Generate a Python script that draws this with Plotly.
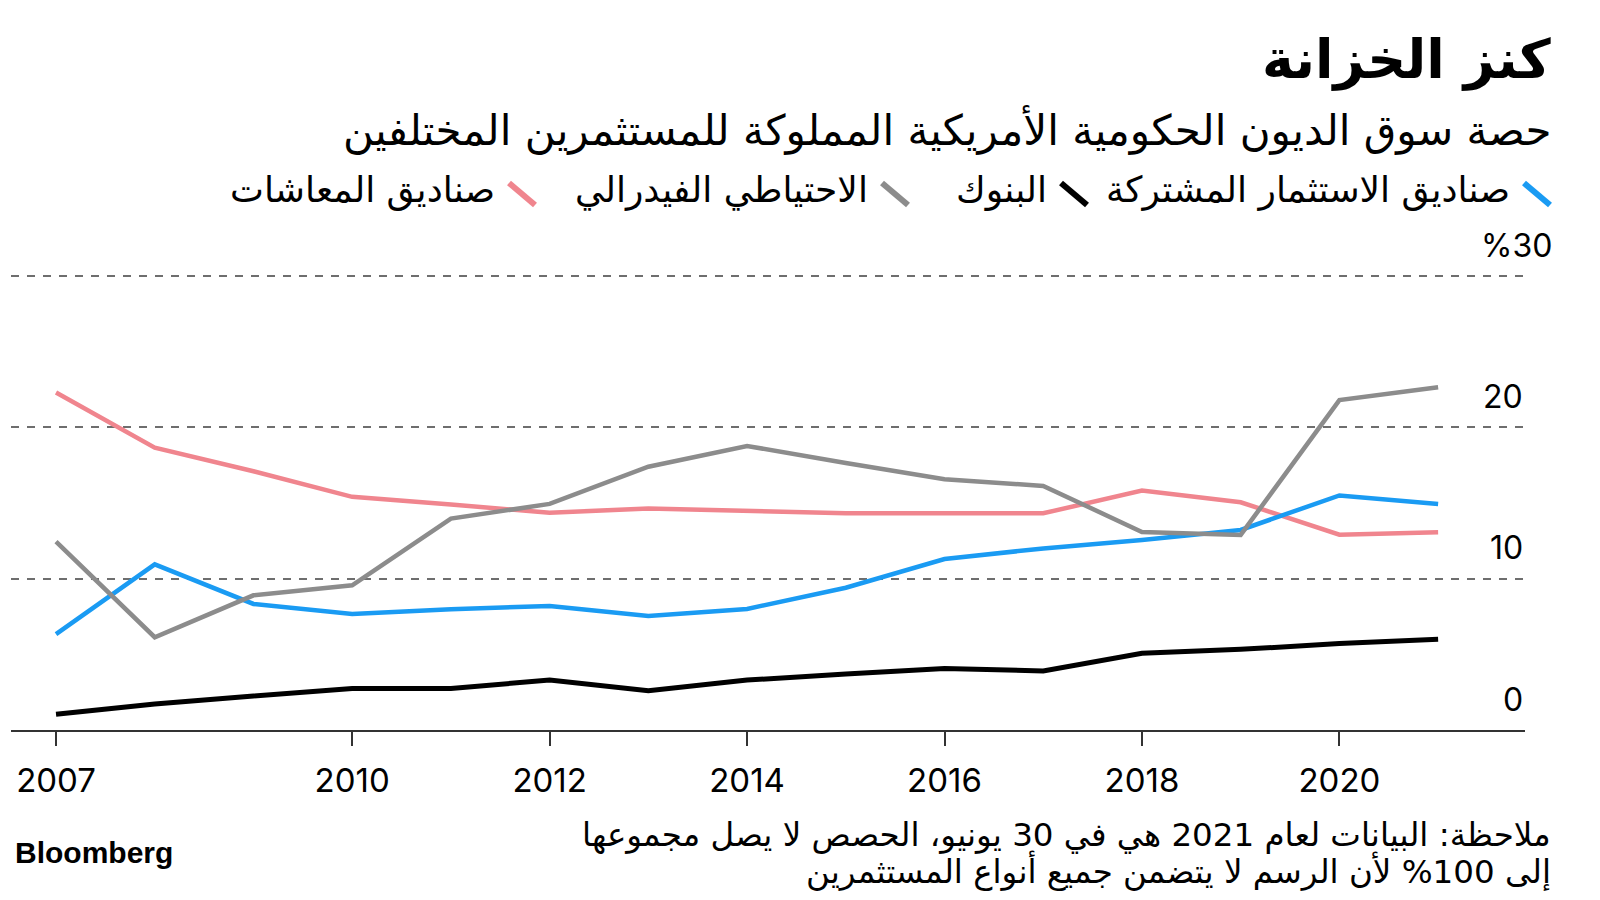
import plotly.graph_objects as go

# ---------------- data ----------------
years = list(range(2007, 2022))
mutual_funds = [6.34, 10.95, 8.33, 7.67, 7.98, 8.2, 7.53, 8.0, 9.4, 11.3, 12.0, 12.56, 13.22, 15.5, 14.94]
banks = [1.04, 1.72, 2.25, 2.75, 2.75, 3.3, 2.6, 3.3, 3.7, 4.06, 3.9, 5.07, 5.33, 5.71, 6.0]
fed_reserve = [12.45, 6.13, 8.9, 9.56, 13.97, 14.94, 17.4, 18.77, 17.65, 16.57, 16.13, 13.09, 12.89, 21.8, 22.65]
pension_funds = [22.3, 18.66, 17.1, 15.41, 14.9, 14.36, 14.63, 14.45, 14.33, 14.32, 14.32, 15.82, 15.05, 12.91, 13.07]

series_names = ["صناديق الاستثمار المشتركة", "البنوك", "الاحتياطي الفيدرالي", "صناديق المعاشات"]
series_colors = ["#1a9bf3", "#000000", "#8c8c8c", "#f0858e"]

x_tick_vals = [2007, 2010, 2012, 2014, 2016, 2018, 2020]
y_grid_vals = [10, 20, 30]
y_label_vals = [0, 10, 20, 30]
y_label_text = ["0", "10", "20", "%30"]

title_text = "كنز الخزانة"
subtitle_text = "حصة سوق الديون الحكومية الأمريكية المملوكة للمستثمرين المختلفين"
note_lines = [
    "ملاحظة: البيانات لعام 2021 هي في 30 يونيو، الحصص لا يصل مجموعها",
    "إلى 100% لأن الرسم لا يتضمن جميع أنواع المستثمرين",
]
source_text = "Bloomberg"

# ---------------- layout geometry (screen pixels) ----------------
OFF = 8                      # default page body margin
W, H = 1600 - OFF, 900 - OFF
Y_TOP = 30.2                 # a little headroom so the 30 gridline is drawn
PL, PR, P30, PB = 11, 1525, 276, 730   # screen px: left, right, y=30, y=0
UNIT = (PB - P30) / 30.0
PT = PB - Y_TOP * UNIT

def px_x(px):
    return (px - PL) / (PR - PL)

def px_y(py):
    return (PB - py) / (PB - PT)

AR_FONT = "DejaVu Sans"
NUM_FONT = "Inter, Liberation Sans, Arial"

fig = go.Figure()

# draw order: pension, mutual, banks, fed (fed on top)
draw = [
    (3, pension_funds, 4.5),
    (0, mutual_funds, 4.5),
    (1, banks, 5),
    (2, fed_reserve, 4.5),
]
for idx, vals, w in draw:
    fig.add_trace(go.Scatter(
        x=years, y=vals, mode="lines",
        name=series_names[idx],
        line=dict(color=series_colors[idx], width=w),
        hoverinfo="skip", showlegend=False,
    ))

annotations = []
shapes = []

# title & subtitle
annotations.append(dict(
    text="<b>" + title_text + "</b>", x=px_x(1553), y=px_y(59), xref="paper", yref="paper",
    xanchor="right", yanchor="middle", showarrow=False,
    font=dict(family=AR_FONT, size=54, color="#000"),
))
annotations.append(dict(
    text=subtitle_text, x=px_x(1553), y=px_y(129), xref="paper", yref="paper",
    xanchor="right", yanchor="middle", showarrow=False,
    font=dict(family=AR_FONT, size=42, color="#000"),
))

# legend (RTL: slash right of text)
legend_slash_right = [1553, 1090, 911, 538]
for i, name in enumerate(series_names):
    r = legend_slash_right[i]
    shapes.append(dict(
        type="line", xref="paper", yref="paper",
        x0=px_x(r - 29), y0=px_y(183), x1=px_x(r - 3), y1=px_y(205),
        line=dict(color=series_colors[i], width=6),
    ))
    annotations.append(dict(
        text=name, x=px_x(r - 41), y=px_y(190), xref="paper", yref="paper",
        xanchor="right", yanchor="middle", showarrow=False,
        font=dict(family=AR_FONT, size=36, color="#000"),
    ))

# y labels (above gridlines, right side)
for v, t in zip(y_label_vals, y_label_text):
    annotations.append(dict(
        text=t, x=1, y=v, xref="paper", yref="y",
        xanchor="right", yanchor="middle", showarrow=False,
        xshift=29 if t.startswith("%") else 0, yshift=31,
        font=dict(family=NUM_FONT, size=32, color="#000"),
    ))

# note
for i, line in enumerate(note_lines):
    annotations.append(dict(
        text=line, x=px_x(1553), y=px_y(835 + 36 * i), xref="paper", yref="paper",
        xanchor="right", yanchor="middle", showarrow=False,
        font=dict(family=AR_FONT, size=32.5, color="#000"),
    ))

# source
annotations.append(dict(
    text="<b>" + source_text + "</b>", x=px_x(13), y=px_y(853), xref="paper", yref="paper",
    xanchor="left", yanchor="middle", showarrow=False,
    font=dict(family="Liberation Sans, Arial", size=30, color="#000"),
))

fig.update_layout(
    width=W, height=H,
    margin=dict(l=PL - OFF, r=1600 - PR, t=PT - OFF, b=900 - PB, pad=0),
    paper_bgcolor="white", plot_bgcolor="white",
    showlegend=False,
    annotations=annotations,
    shapes=shapes,
    xaxis=dict(
        range=[2006.544, 2021.88],
        tickvals=x_tick_vals,
        ticktext=[str(v) for v in x_tick_vals],
        ticks="outside", ticklen=14, tickwidth=1.5, tickcolor="#333",
        showline=True, linecolor="#333", linewidth=2,
        showgrid=False, zeroline=False,
        tickfont=dict(family=NUM_FONT, size=33, color="#000"),
        ticklabelstandoff=6,
        fixedrange=True,
    ),
    yaxis=dict(
        range=[0, Y_TOP],
        tickvals=y_grid_vals,
        showticklabels=False,
        showgrid=True, gridcolor="#6e6e6e", gridwidth=1.5, griddash="8px,8px",
        zeroline=False, showline=False, ticks="",
        fixedrange=True,
    ),
)

fig.write_html("out.html")
